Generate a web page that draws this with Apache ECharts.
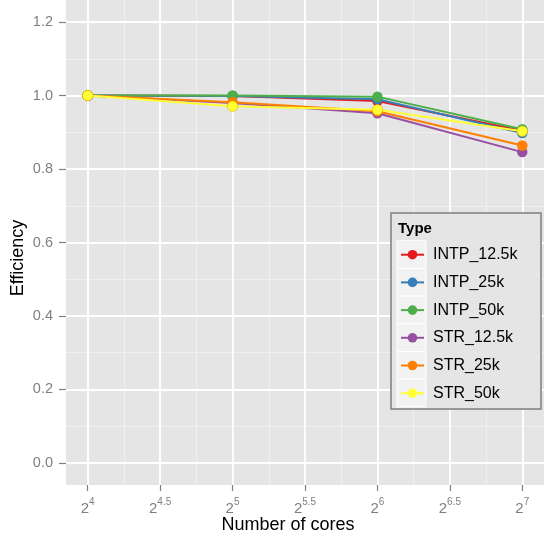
<!DOCTYPE html>
<html>
<head>
<meta charset="utf-8">
<script src="https://cdn.jsdelivr.net/npm/echarts@6/dist/echarts.min.js"></script>
<style>html,body{margin:0;padding:0;background:#fff}#c{width:544px;height:542px}</style>
</head>
<body>
<div id="c"></div>
<script>
const cores = [16, 32, 64, 128];
const seriesNames = ['INTP_12.5k', 'INTP_25k', 'INTP_50k', 'STR_12.5k', 'STR_25k', 'STR_50k'];
const intp125 = [1.0, 0.999, 0.985, 0.904];
const intp25  = [1.0, 0.999, 0.990, 0.898];
const intp50  = [1.0, 1.000, 0.997, 0.908];
const str125  = [1.0, 0.980, 0.952, 0.846];
const str25   = [1.0, 0.982, 0.957, 0.864];
const str50   = [1.0, 0.971, 0.961, 0.903];
const xTickExps = [4, 4.5, 5, 5.5, 6, 6.5, 7];
const xMinorExps = [4.25, 4.75, 5.25, 5.75, 6.25, 6.75];
const yTicks = [0, 0.2, 0.4, 0.6, 0.8, 1.0, 1.2];
const yMinor = [0.1, 0.3, 0.5, 0.7, 0.9, 1.1];

const values = [intp125, intp25, intp50, str125, str25, str50];
const colors = ['#E41A1C', '#377EB8', '#4DAF4A', '#984EA3', '#FF7F00', '#FFFF33'];
const borders = [null, null, null, null, null, '#D9B400'];
const FONT = 'Liberation Sans, Arial, Helvetica, sans-serif';

const chart = echarts.init(document.getElementById('c'), null, {renderer: 'canvas'});

const X_MIN = 3.85, X_MAX = 7.15, Y_MIN = -0.06, Y_MAX = 1.26;

const series = seriesNames.map((n, i) => ({
  name: n,
  type: 'line',
  xAxisIndex: 0, yAxisIndex: 0,
  data: cores.map((c, j) => [Math.log2(c), values[i][j]]),
  symbol: 'circle',
  symbolSize: 10.5,
  lineStyle: {color: colors[i], width: 2},
  itemStyle: borders[i] ? {color: colors[i], borderColor: borders[i], borderWidth: 0.6} : {color: colors[i], borderWidth: 0},
  emphasis: {disabled: true},
  z: 3 + i * 0.01,
  animation: false
}));

const keyTop = 240.7, keyH = 27.7;
const graphics = [
  {type: 'rect', shape: {x: 391, y: 213, width: 150, height: 196}, style: {fill: '#E5E5E5', stroke: '#7F7F7F', lineWidth: 1.5}, z: 2},
  {type: 'text', style: {x: 398, y: 229, text: 'Type', font: 'bold 15px ' + FONT, fill: '#000', verticalAlign: 'middle'}, z: 5},
  {type: 'text', style: {x: 18, y: 258, text: 'Efficiency', font: '18px ' + FONT, fill: '#000', align: 'center', verticalAlign: 'middle'}, rotation: Math.PI / 2, originX: 18, originY: 258, z: 5},
  {type: 'text', style: {x: 288, y: 525, text: 'Number of cores', font: '18px ' + FONT, fill: '#000', align: 'center', verticalAlign: 'middle'}, z: 5}
];
seriesNames.forEach((n, i) => {
  graphics.push({type: 'rect', shape: {x: 397, y: keyTop + i * keyH, width: 29, height: keyH}, style: {fill: '#F2F2F2', stroke: '#FFFFFF', lineWidth: 1}, z: 3});
});

const option = {
  backgroundColor: '#ffffff',
  animation: false,
  grid: {left: 66, right: -3, top: -2, bottom: 57, show: true, backgroundColor: '#E5E5E5', borderWidth: 0, containLabel: false},
  xAxis: [
    {
      type: 'value', min: X_MIN, max: X_MAX, position: 'bottom',
      axisLine: {show: false, onZero: false},
      axisTick: {show: true, length: 6, lineStyle: {color: '#7F7F7F', width: 1.2}, customValues: xTickExps},
      axisLabel: {
        customValues: xTickExps, margin: 9, color: '#7F7F7F',
        formatter: v => '{b|2}{s|' + v + '}',
        rich: {
          b: {fontSize: 15, fontFamily: FONT, color: '#7F7F7F', verticalAlign: 'bottom', lineHeight: 22},
          s: {fontSize: 10, fontFamily: FONT, color: '#7F7F7F', verticalAlign: 'bottom', lineHeight: 22, padding: [0, 0, 9, 0]}
        }
      },
      splitLine: {show: true, lineStyle: {color: '#FFFFFF', width: 1.8}},
      z: 1
    },
    {
      type: 'value', min: X_MIN, max: X_MAX, position: 'bottom',
      axisLine: {show: false, onZero: false},
      axisTick: {show: false, customValues: xMinorExps},
      axisLabel: {show: false, customValues: xMinorExps},
      splitLine: {show: true, lineStyle: {color: '#F2F2F2', width: 0.8}},
      z: 0
    }
  ],
  yAxis: [
    {
      type: 'value', min: Y_MIN, max: Y_MAX, position: 'left',
      axisLine: {show: false, onZero: false},
      axisTick: {show: true, length: 7, lineStyle: {color: '#7F7F7F', width: 1.2}, customValues: yTicks},
      axisLabel: {customValues: yTicks, margin: 13, color: '#7F7F7F', fontSize: 14.5, fontFamily: FONT, formatter: v => v.toFixed(1)},
      splitLine: {show: true, lineStyle: {color: '#FFFFFF', width: 1.8}},
      z: 1
    },
    {
      type: 'value', min: Y_MIN, max: Y_MAX, position: 'left',
      axisLine: {show: false, onZero: false},
      axisTick: {show: false, customValues: yMinor},
      axisLabel: {show: false, customValues: yMinor},
      splitLine: {show: true, lineStyle: {color: '#F2F2F2', width: 0.8}},
      z: 0
    }
  ],
  legend: {
    show: true,
    orient: 'vertical',
    left: 400, top: 246.7,
    padding: 0,
    itemWidth: 23, itemHeight: 12, itemGap: 11.7,
    itemStyle: {borderWidth: 0},
    textStyle: {fontSize: 16, fontFamily: FONT, color: '#000', lineHeight: 16, padding: [0, 0, 0, 4]},
    data: seriesNames,
    selectedMode: false,
    z: 6
  },
  graphic: graphics,
  series: series
};
chart.setOption(option);
</script>
</body>
</html>
